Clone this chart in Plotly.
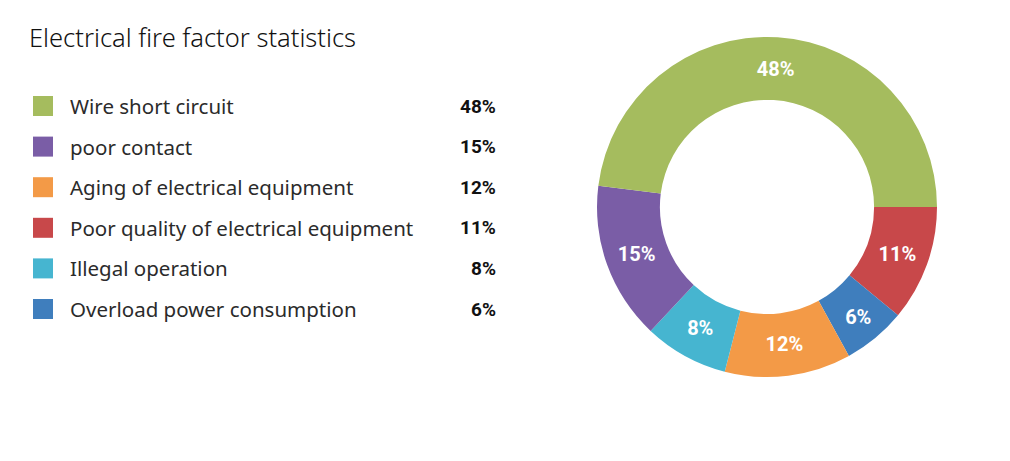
import plotly.graph_objects as go

title_text = "Electrical fire factor statistics"

# Legend order (as listed on the left)
legend_labels = [
    "Wire short circuit",
    "poor contact",
    "Aging of electrical equipment",
    "Poor quality of electrical equipment",
    "Illegal operation",
    "Overload power consumption",
]
legend_values = [48, 15, 12, 11, 8, 6]
legend_colors = ["#A5BC5E", "#7A5DA6", "#F39A47", "#C8484A", "#46B5D0", "#3F7EBD"]

# Donut order (clockwise, starting at 3 o'clock)
pie_labels = [
    "Poor quality of electrical equipment",
    "Overload power consumption",
    "Aging of electrical equipment",
    "Illegal operation",
    "poor contact",
    "Wire short circuit",
]
color_map = dict(zip(legend_labels, legend_colors))
value_map = dict(zip(legend_labels, legend_values))
pie_values = [value_map[l] for l in pie_labels]
pie_colors = [color_map[l] for l in pie_labels]

W, H = 1010, 461
OFF = 8  # page body margin


def px(x):
    return (x - OFF) / W


def py(y):
    return (H - (y - OFF)) / H


fig = go.Figure()
fig.add_trace(go.Pie(
    labels=pie_labels,
    values=pie_values,
    sort=False,
    direction="clockwise",
    rotation=90,
    hole=0.63,
    marker=dict(colors=pie_colors, line=dict(width=0)),
    texttemplate="%{value}%",
    textposition="inside",
    insidetextorientation="horizontal",
    textfont=dict(color="white", size=20, family="Roboto", weight="bold"),
    domain=dict(x=[px(597), px(937)], y=[py(377), py(37)]),
    showlegend=False,
))

annotations = [dict(
    text=title_text, x=px(27), y=py(37), xref="paper", yref="paper",
    xanchor="left", yanchor="middle", showarrow=False,
    font=dict(size=25.5, color="#111111", family="Noto Sans", weight=300),
)]
shapes = [dict(type="line", xref="paper", yref="paper", x0=0, x1=px(340),
               y0=py(1), y1=py(1), line=dict(color="#EEEEEE", width=3))]

row_y0 = 106
row_step = 40.6
for i, (lab, val, col) in enumerate(zip(legend_labels, legend_values, legend_colors)):
    yc = row_y0 + i * row_step
    shapes.append(dict(type="rect", xref="paper", yref="paper",
                       x0=px(33), x1=px(53), y0=py(yc + 10), y1=py(yc - 10),
                       fillcolor=col, line=dict(width=0)))
    annotations.append(dict(
        text=lab, x=px(68), y=py(yc), xref="paper", yref="paper",
        xanchor="left", yanchor="middle", showarrow=False,
        font=dict(size=20.5, color="#2b2b2b", family="Noto Sans"),
    ))
    annotations.append(dict(
        text=f"{val}%", x=px(498), y=py(yc), xref="paper", yref="paper",
        xanchor="right", yanchor="middle", showarrow=False,
        font=dict(size=19, color="#111111", family="Roboto", weight="bold"),
    ))

fig.update_layout(
    width=W, height=H,
    margin=dict(l=0, r=0, t=0, b=0),
    paper_bgcolor="white",
    plot_bgcolor="white",
    annotations=annotations,
    shapes=shapes,
    showlegend=False,
)

fig.write_html("out.html")
